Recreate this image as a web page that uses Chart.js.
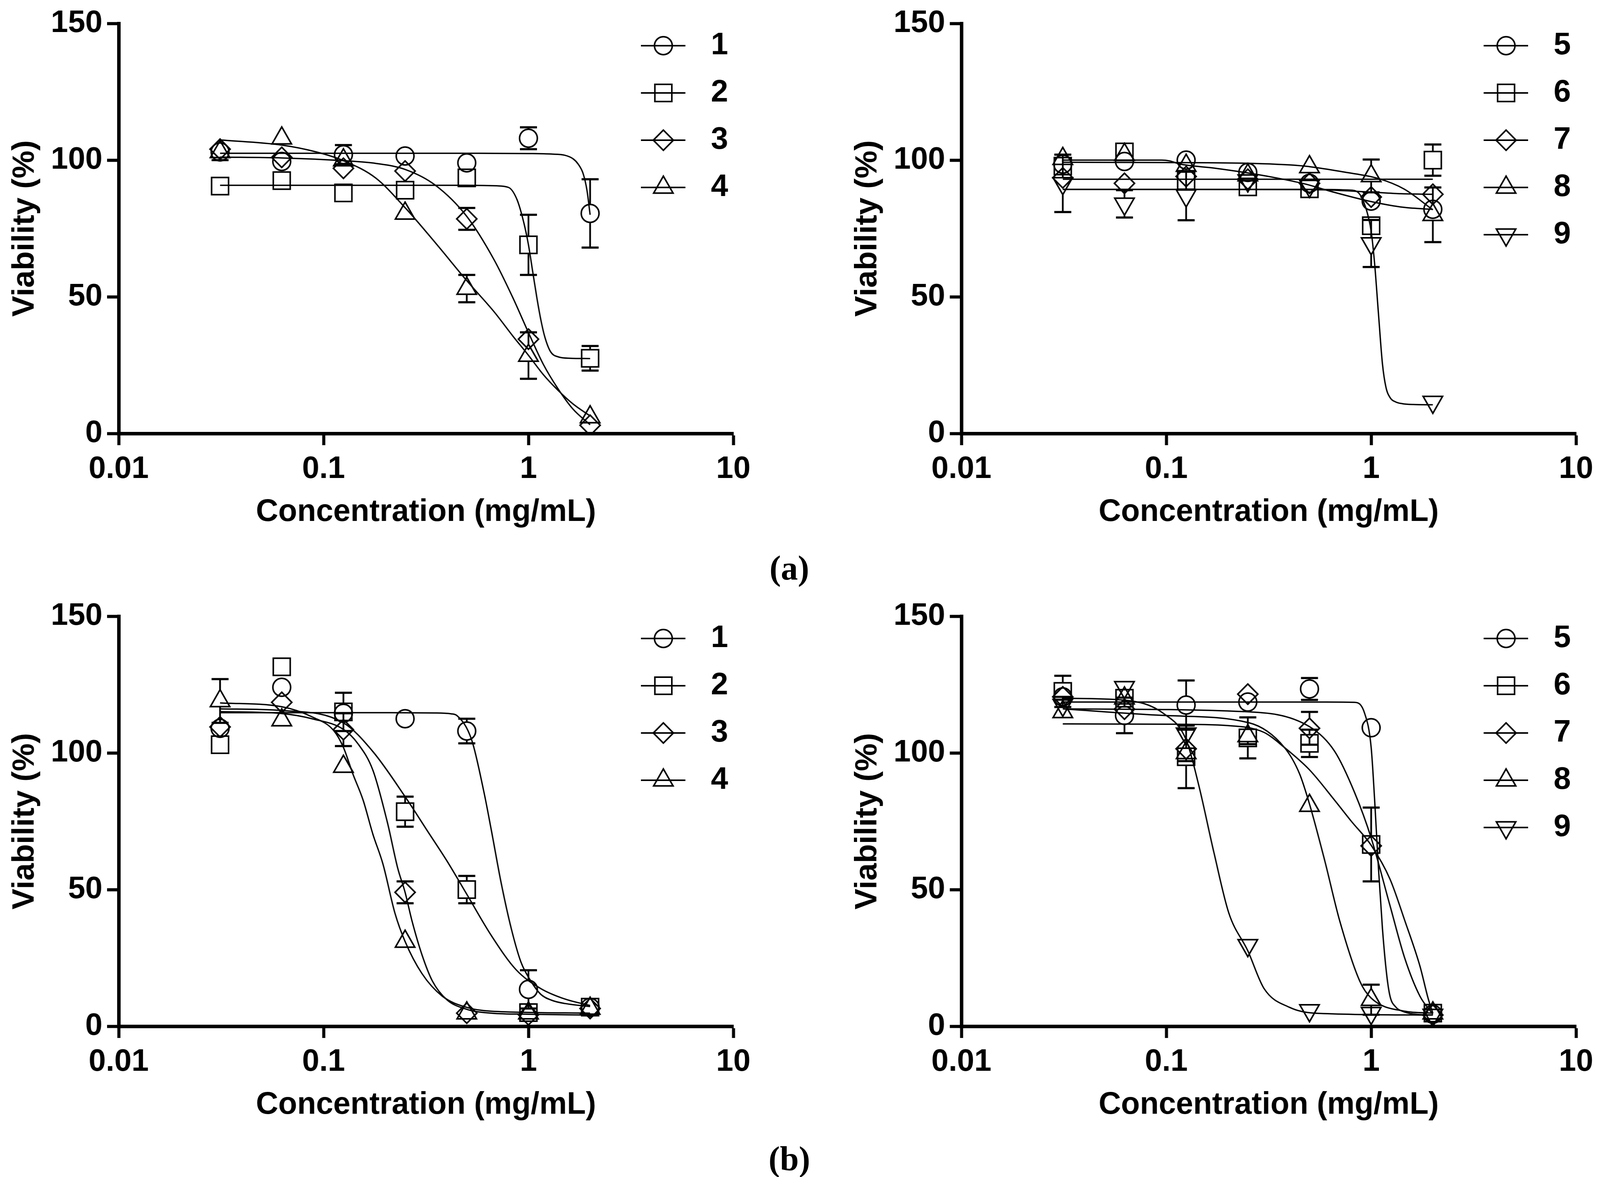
<!DOCTYPE html>
<html lang="en">

<head>
    <meta charset="UTF-8">
    <title>viability</title>
    <script src="https://cdn.jsdelivr.net/npm/chart.js"></script>
    <style>
        html, body { margin: 0; padding: 0; overflow: hidden; background: #fff; }
        #pagina { position: absolute; left: 0; top: 0; width: 4139px; height: 3014px; background: #fff; overflow: hidden; transform-origin: 0 0; }
        .painel { position: absolute; }
        .painel canvas { display: block; }
        .letra { position: absolute; transform: translate(-50%, -50%); font-family: 'Liberation Serif', 'Times New Roman', serif; font-weight: bold; font-size: 88px; line-height: 1; color: #000; }
    </style>
</head>

<body>
    <div id="pagina">
        <div class="painel" style="left:0;top:0"><canvas id="gA1" width="1959" height="1400"></canvas></div>
        <div class="painel" style="left:2180px;top:0"><canvas id="gA2" width="1959" height="1400"></canvas></div>
        <div class="painel" style="left:0;top:1518px"><canvas id="gB1" width="1959" height="1400"></canvas></div>
        <div class="painel" style="left:2180px;top:1518px"><canvas id="gB2" width="1959" height="1400"></canvas></div>
        <div class="letra" style="left:2042px;top:1455px">(a)</div>
        <div class="letra" style="left:2042px;top:2968px">(b)</div>
    </div>
</body>

</html>

<script>
    const conc = [0.03125, 0.0625, 0.125, 0.25, 0.5, 1, 2];
    const xTicks = [0.01, 0.1, 1, 10];
    const yTicks = [0, 50, 100, 150];

    // (a) esquerda: 1-4
    const a1 = [103, 99.5, 102, 101.5, 99, 108, 80.5];
    const a1Err = [2, 3, 3.5, 1, 3, 4, 12.5];
    const a2 = [90.5, 92.5, 88, 89, 93.5, 69, 27.5];
    const a2Err = [1.5, 2, 2, 2, 2.5, 11, 4.5];
    const a3 = [104, 101, 97, 96, 78.5, 34.5, 3];
    const a3Err = [2, 2, 2, 1.5, 4, 3.5, 1];
    const a4 = [103, 108, 100, 80.5, 53, 28.5, 6];
    const a4Err = [3, 1.5, 2, 1, 5, 8.5, 1];

    const a1FitX = [0.03125, 0.5, 1, 1.3, 1.5, 1.65, 1.75, 1.85, 1.93, 2];
    const a1FitY = [102.5, 102.5, 102.4, 102.2, 101.8, 100.5, 98.5, 95, 89, 80];
    const a2FitX = [0.03125, 0.5, 0.7, 0.8, 0.88, 0.95, 1, 1.05, 1.1, 1.15, 1.2, 1.28, 1.4, 1.6, 2];
    const a2FitY = [90.8, 90.8, 90.6, 90, 85.5, 77, 69, 59, 49.5, 41.5, 35.5, 30, 28, 27.5, 27.4];
    const a3FitX = [0.03125, 0.0625, 0.125, 0.18, 0.25, 0.35, 0.5, 0.68, 0.84, 1, 1.18, 1.39, 1.65, 2];
    const a3FitY = [101.1, 100.8, 99.8, 98.8, 96.6, 90.9, 79.4, 63.5, 49.6, 36.9, 25.4, 16.5, 8.9, 3.2];
    const a4FitX = [0.03125, 0.0625, 0.092, 0.125, 0.18, 0.25, 0.35, 0.5, 0.68, 0.84, 1, 1.18, 1.39, 1.65, 2];
    const a4FitY = [107.4, 105.5, 103, 99.8, 93.4, 82.6, 69.9, 55.9, 44.5, 35.6, 28.6, 21.6, 15.9, 10.8, 6.4];

    // (a) direita: 5-9
    const a5 = [98.5, 99.5, 100, 95.5, 91.5, 85, 82];
    const a5Err = [2, 2, 2, 1.5, 2, 2.5, 2];
    const a6 = [97.8, 103, 92.5, 90.2, 89.5, 76, 100];
    const a6Err = [2, 2, 2, 1.5, 2, 2, 5.7];
    const a7 = [93.5, 91.5, 94, 93, 91.5, 86.5, 87.5];
    const a7Err = [2, 3.5, 2, 1.5, 2, 2, 2];
    const a8 = [100.5, 102, 98, 94.5, 97.5, 94.2, 80];
    const a8Err = [2, 2, 2, 1.5, 2, 6, 10];
    const a9 = [91.5, 84, 87, 92.5, 90.5, 69.5, 11.5];
    const a9Err = [10.5, 5, 9, 1.5, 2, 8.6, 1];

    const a5FitX = [0.03125, 0.095, 0.104, 0.116, 0.17, 0.265, 0.355, 0.48, 0.64, 0.99, 1.45, 2];
    const a5FitY = [100, 100, 99.7, 98.6, 97.1, 95, 93.3, 91.2, 88.5, 84.9, 82.7, 82];
    const a6FitX = [0.03125, 2];
    const a6FitY = [93, 93];
    const a7FitX = [0.03125, 0.5, 0.7, 1, 1.4, 2];
    const a7FitY = [89.3, 89.2, 88.9, 88.3, 87.7, 87.5];
    const a8FitX = [0.03125, 0.1, 0.265, 0.476, 0.742, 1.08, 1.45, 2];
    const a8FitY = [99.2, 99.1, 98.8, 97.8, 95.6, 93.3, 89.4, 81.8];
    const a9FitX = [0.03125, 0.5, 0.8, 0.88, 0.935, 0.97, 1, 1.04, 1.085, 1.135, 1.18, 1.24, 1.32, 1.42, 1.6, 2];
    const a9FitY = [89.3, 89.3, 89, 87.5, 83.2, 79, 74, 62, 44, 25.5, 17, 13, 11.5, 10.9, 10.6, 10.5];

    // (b) esquerda: 1-4
    const b1 = [109, 124, 114.5, 112.5, 108, 13.5, 6.9];
    const b1Err = [2, 2, 2, 1, 4.5, 7, 1];
    const b2 = [103, 131.5, 115, 78.5, 50, 5, 7];
    const b2Err = [3, 2, 7, 5.5, 5, 1, 1];
    const b3 = [109.5, 118.5, 108.5, 49, 4.8, 4.2, 6.5];
    const b3Err = [1.5, 2, 6, 4, 1, 1, 1];
    const b4 = [119, 112, 95, 31, 4.8, 4.8, 6.5];
    const b4Err = [8, 2, 2, 1, 1, 1, 1];

    const b1FitX = [0.03125, 0.2, 0.35, 0.42, 0.447, 0.528, 0.607, 0.659, 0.736, 0.824, 0.92, 1.028, 1.148, 1.3, 1.515, 2];
    const b1FitY = [114.7, 114.7, 114.6, 114.3, 113.7, 104.8, 85.5, 71.7, 52.4, 35.8, 23.4, 16.5, 11.7, 9.5, 8.3, 7.2];
    const b2FitX = [0.03125, 0.0625, 0.125, 0.174, 0.25, 0.321, 0.4, 0.5, 0.66, 0.87, 1.148, 1.515, 2];
    const b2FitY = [116.1, 115.5, 111, 100.5, 84, 71.5, 60.5, 48.3, 33.1, 20.7, 13.8, 9.9, 7.6];
    const b3FitX = [0.03125, 0.0625, 0.089, 0.125, 0.147, 0.174, 0.205, 0.23, 0.25, 0.27, 0.302, 0.34, 0.4, 0.5, 0.66, 1, 2];
    const b3FitY = [115.1, 114.4, 112.4, 108.6, 103.4, 93.7, 74.5, 57.9, 49, 38.6, 26.2, 16.5, 9.7, 6.2, 4.8, 4.4, 4.1];
    const b4FitX = [0.03125, 0.0625, 0.089, 0.112, 0.125, 0.139, 0.156, 0.174, 0.195, 0.223, 0.25, 0.302, 0.38, 0.5, 0.66, 2];
    const b4FitY = [118.3, 116.9, 113, 108.2, 102, 92.3, 82.7, 70.3, 59.3, 41.4, 31, 19.3, 11, 6.9, 5.5, 4.8];

    // (b) direita: 5-9
    const b5 = [120.5, 113.7, 117.5, 118.6, 123.4, 109.2, 4.4];
    const b5Err = [2, 6.5, 9, 2, 4, 3, 1];
    const b6 = [122.5, 120, 98.6, 105.5, 103.5, 66.5, 4.8];
    const b6Err = [5.7, 2, 11.5, 7.5, 5, 13.5, 1];
    const b7 = [120.5, 116, 101.5, 121.5, 109, 66, 4.1];
    const b7Err = [2, 2, 2, 3, 6, 3, 1];
    const b8 = [115, 120, 100, 106.2, 80.7, 9.7, 4.8];
    const b8Err = [2, 2, 3, 3, 2, 5.5, 1];
    const b9 = [117.5, 124, 107, 29.6, 5.8, 4.8, 4.1];
    const b9Err = [3, 2, 3, 1, 1, 1, 1];

    const b5FitX = [0.03125, 0.6, 0.83, 0.93, 1, 1.04, 1.085, 1.135, 1.19, 1.236, 1.32, 1.42, 1.6, 2];
    const b5FitY = [118.6, 118.6, 118.5, 114.4, 102, 82.7, 58, 35.8, 19, 11, 7, 5.5, 4.5, 4.1];
    const b6FitX = [0.03125, 0.1, 0.2, 0.3, 0.377, 0.5, 0.663, 0.8, 1, 1.236, 1.46, 1.73, 1.9, 2];
    const b6FitY = [110.6, 110.5, 110, 107.5, 102, 93.8, 82.7, 75, 66.2, 53.8, 38.6, 22, 10, 4.8];
    const b7FitX = [0.03125, 0.24, 0.5, 0.663, 0.83, 1, 1.236, 1.46, 1.73, 2];
    const b7FitY = [116.1, 115.1, 109.6, 100.6, 85.5, 68.9, 44.1, 24.8, 11, 4.4];
    const b8FitX = [0.03125, 0.097, 0.254, 0.377, 0.447, 0.5, 0.593, 0.702, 0.88, 1, 1.46, 2];
    const b8FitY = [116.1, 113.7, 111, 102, 92.4, 81.3, 60.7, 38.6, 16.5, 10.3, 5.5, 4.8];
    const b9FitX = [0.03125, 0.0625, 0.097, 0.125, 0.144, 0.171, 0.202, 0.25, 0.3, 0.4, 0.53, 2];
    const b9FitY = [120, 119.3, 114.4, 104.8, 88.2, 63.4, 41.4, 27.6, 13.8, 6.9, 4.8, 4.1];

    // se a janela for mais estreita que a figura, encolhe na horizontal
    const larguraJanela = window.innerWidth || document.documentElement.clientWidth;
    if (larguraJanela && Math.abs(larguraJanela - 4139) > 2) {
        document.getElementById('pagina').style.transform = 'scale(' + (larguraJanela / 4139) + ', 1)';
    }

    const fonte = "'Liberation Sans', Arial, sans-serif";
    Chart.defaults.font.family = fonte;
    Chart.defaults.color = '#000';

    const circulo = { estilo: 'circle', raio: 23, giro: 0 };
    const quadrado = { estilo: 'rect', raio: 31, giro: 0 };
    const losango = { estilo: 'rectRot', raio: 26, giro: 0 };
    const triangulo = { estilo: 'triangle', raio: 29, giro: 0 };
    const trianguloInv = { estilo: 'triangle', raio: 29, giro: 180 };

    // quanto o simbolo ocupa acima / abaixo do centro
    function extensao(d) {
        const r = d.pointRadius;
        if (d.pointStyle === 'rect') return [r * Math.SQRT1_2, r * Math.SQRT1_2];
        if (d.pointStyle === 'triangle') return d.pointRotation ? [r / 2, r] : [r, r / 2];
        return [r, r];
    }

    const barrasPlugin = {
        id: 'barras',
        afterDatasetsDraw(chart) {
            const ctx = chart.ctx;
            const eixoY = chart.scales.y;
            ctx.save();
            ctx.strokeStyle = '#000';
            chart.data.datasets.forEach((d, i) => {
                if (!d.erro) return;
                const ext = extensao(d);
                chart.getDatasetMeta(i).data.forEach((p, j) => {
                    const v = d.data[j].y;
                    const e = d.erro[j];
                    const topo = eixoY.getPixelForValue(v + e);
                    const base = eixoY.getPixelForValue(v - e);
                    if (topo < p.y - ext[0]) {
                        ctx.lineWidth = 4.5;
                        ctx.beginPath(); ctx.moveTo(p.x, p.y - ext[0]); ctx.lineTo(p.x, topo); ctx.stroke();
                        ctx.lineWidth = 5.5;
                        ctx.beginPath(); ctx.moveTo(p.x - 22, topo); ctx.lineTo(p.x + 22, topo); ctx.stroke();
                    }
                    if (base > p.y + ext[1]) {
                        ctx.lineWidth = 4.5;
                        ctx.beginPath(); ctx.moveTo(p.x, p.y + ext[1]); ctx.lineTo(p.x, base); ctx.stroke();
                        ctx.lineWidth = 5.5;
                        ctx.beginPath(); ctx.moveTo(p.x - 22, base); ctx.lineTo(p.x + 22, base); ctx.stroke();
                    }
                });
            });
            ctx.restore();
        }
    };

    const chavePlugin = {
        id: 'chave',
        afterDraw(chart) {
            const ctx = chart.ctx;
            const area = chart.chartArea;
            const lista = chart.data.datasets.filter(d => d.nome);
            ctx.save();
            lista.forEach((d, i) => {
                const y = area.top + 57 + i * 121;
                ctx.strokeStyle = '#000';
                ctx.lineWidth = 4;
                ctx.beginPath();
                ctx.moveTo(area.right - 239, y);
                ctx.lineTo(area.right - 124, y);
                ctx.stroke();
                ctx.fillStyle = 'rgba(0,0,0,0)';
                Chart.helpers.drawPoint(ctx, {
                    pointStyle: d.pointStyle, radius: d.pointRadius,
                    rotation: d.pointRotation, borderWidth: 4
                }, area.right - 181, y);
                ctx.fillStyle = '#000';
                ctx.font = 'bold 80px ' + fonte;
                ctx.textAlign = 'left';
                ctx.textBaseline = 'middle';
                ctx.fillText(d.nome, area.right - 58, y);
            });
            ctx.restore();
        }
    };

    function montar(id, series) {
        const datasets = [];
        series.forEach(s => {
            datasets.push({
                type: 'line',
                data: s.fitX.map((x, k) => ({ x: x, y: s.fitY[k] })),
                borderColor: '#000',
                borderWidth: 3.5,
                pointRadius: 0,
                cubicInterpolationMode: 'monotone',
                fill: false,
                order: 0
            });
            datasets.push({
                type: 'scatter',
                nome: s.nome,
                erro: s.erros,
                data: conc.map((x, k) => ({ x: x, y: s.valores[k] })),
                pointStyle: s.simbolo.estilo,
                pointRadius: s.simbolo.raio,
                pointHoverRadius: s.simbolo.raio,
                pointRotation: s.simbolo.giro,
                borderColor: '#000',
                backgroundColor: 'rgba(0,0,0,0)',
                pointBorderWidth: 4,
                order: 1
            });
        });

        new Chart(document.getElementById(id), {
            type: 'scatter',
            data: { datasets: datasets },
            options: {
                responsive: false,
                devicePixelRatio: 1,
                animation: false,
                events: [],
                layout: { padding: { top: 53, right: 62, left: 0, bottom: 0 } },
                plugins: { legend: { display: false }, tooltip: { enabled: false } },
                scales: {
                    x: {
                        type: 'logarithmic',
                        min: 0.01,
                        max: 10,
                        afterBuildTicks: s => { s.ticks = xTicks.map(v => ({ value: v })); },
                        afterFit: s => { s.height = 290; },
                        border: { display: true, color: '#000', width: 9 },
                        grid: { drawOnChartArea: false, drawTicks: true, tickLength: 30, tickWidth: 8, tickColor: '#000' },
                        ticks: { color: '#000', font: { size: 80, weight: 'bold' }, padding: 14, maxRotation: 0, autoSkip: false, callback: v => String(v) },
                        title: { display: true, text: 'Concentration (mg/mL)', color: '#000', font: { size: 80, weight: 'bold' }, padding: { top: 0, bottom: 40 } }
                    },
                    y: {
                        min: 0,
                        max: 150,
                        afterBuildTicks: s => { s.ticks = yTicks.map(v => ({ value: v })); },
                        afterFit: s => { s.width = 307; },
                        border: { display: true, color: '#000', width: 9 },
                        grid: { drawOnChartArea: false, drawTicks: true, tickLength: 30, tickWidth: 8, tickColor: '#000' },
                        ticks: { color: '#000', font: { size: 80, weight: 'bold' }, padding: 12, autoSkip: false },
                        title: { display: true, text: 'Viability (%)', color: '#000', font: { size: 80, weight: 'bold' }, padding: { top: 17, bottom: 0 } }
                    }
                }
            },
            plugins: [barrasPlugin, chavePlugin]
        });
    }

    montar('gA1', [
        { nome: '1', valores: a1, erros: a1Err, fitX: a1FitX, fitY: a1FitY, simbolo: circulo },
        { nome: '2', valores: a2, erros: a2Err, fitX: a2FitX, fitY: a2FitY, simbolo: quadrado },
        { nome: '3', valores: a3, erros: a3Err, fitX: a3FitX, fitY: a3FitY, simbolo: losango },
        { nome: '4', valores: a4, erros: a4Err, fitX: a4FitX, fitY: a4FitY, simbolo: triangulo }
    ]);

    montar('gA2', [
        { nome: '5', valores: a5, erros: a5Err, fitX: a5FitX, fitY: a5FitY, simbolo: circulo },
        { nome: '6', valores: a6, erros: a6Err, fitX: a6FitX, fitY: a6FitY, simbolo: quadrado },
        { nome: '7', valores: a7, erros: a7Err, fitX: a7FitX, fitY: a7FitY, simbolo: losango },
        { nome: '8', valores: a8, erros: a8Err, fitX: a8FitX, fitY: a8FitY, simbolo: triangulo },
        { nome: '9', valores: a9, erros: a9Err, fitX: a9FitX, fitY: a9FitY, simbolo: trianguloInv }
    ]);

    montar('gB1', [
        { nome: '1', valores: b1, erros: b1Err, fitX: b1FitX, fitY: b1FitY, simbolo: circulo },
        { nome: '2', valores: b2, erros: b2Err, fitX: b2FitX, fitY: b2FitY, simbolo: quadrado },
        { nome: '3', valores: b3, erros: b3Err, fitX: b3FitX, fitY: b3FitY, simbolo: losango },
        { nome: '4', valores: b4, erros: b4Err, fitX: b4FitX, fitY: b4FitY, simbolo: triangulo }
    ]);

    montar('gB2', [
        { nome: '5', valores: b5, erros: b5Err, fitX: b5FitX, fitY: b5FitY, simbolo: circulo },
        { nome: '6', valores: b6, erros: b6Err, fitX: b6FitX, fitY: b6FitY, simbolo: quadrado },
        { nome: '7', valores: b7, erros: b7Err, fitX: b7FitX, fitY: b7FitY, simbolo: losango },
        { nome: '8', valores: b8, erros: b8Err, fitX: b8FitX, fitY: b8FitY, simbolo: triangulo },
        { nome: '9', valores: b9, erros: b9Err, fitX: b9FitX, fitY: b9FitY, simbolo: trianguloInv }
    ]);
</script>
